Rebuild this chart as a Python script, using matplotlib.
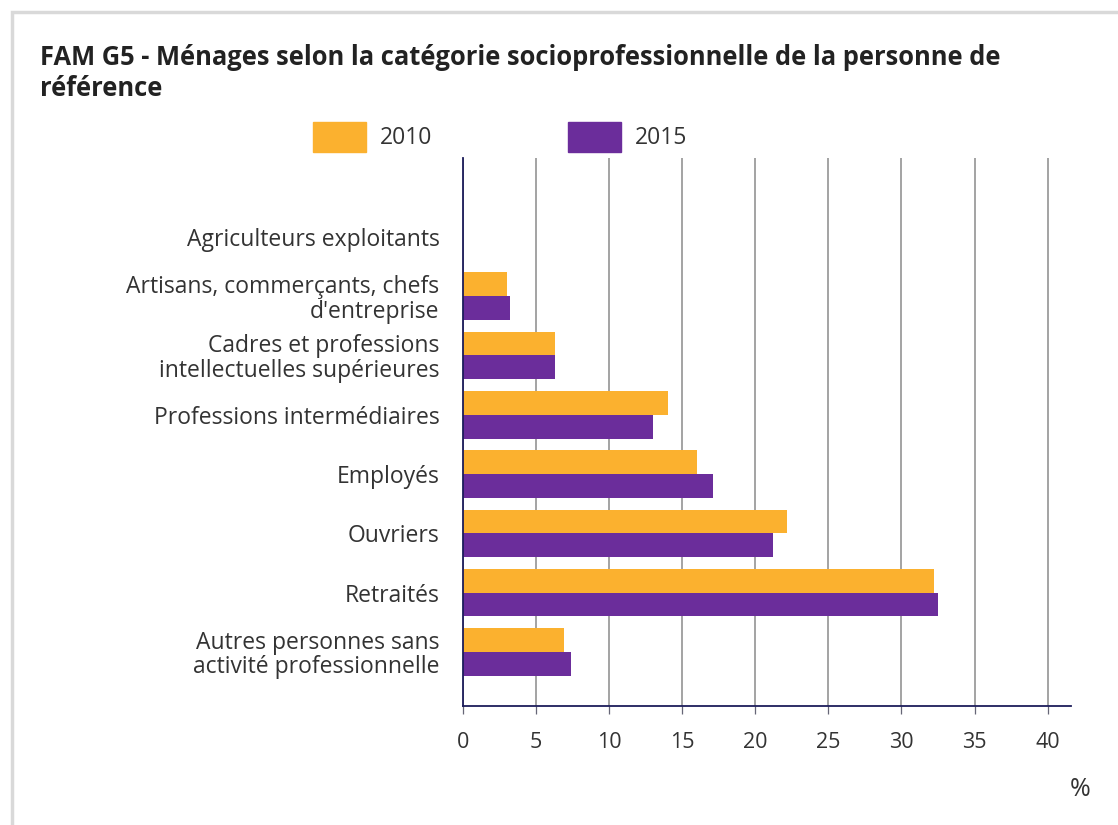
import matplotlib
matplotlib.use("Agg")
import matplotlib.pyplot as plt
import numpy as np
from matplotlib.patches import Rectangle

categories = [
    "Agriculteurs exploitants",
    "Artisans, commerçants, chefs\nd'entreprise",
    "Cadres et professions\nintellectuelles supérieures",
    "Professions intermédiaires",
    "Employés",
    "Ouvriers",
    "Retraités",
    "Autres personnes sans\nactivité professionnelle",
]
values_2010 = [0.0, 3.0, 6.3, 14.0, 16.0, 22.2, 32.2, 6.9]
values_2015 = [0.0, 3.2, 6.3, 13.0, 17.1, 21.2, 32.5, 7.4]
series_labels = ["2010", "2015"]
xticks = [0, 5, 10, 15, 20, 25, 30, 35, 40]

c2010 = "#FBB12F"
c2015 = "#6B2D9B"
navy = "#1c1c5a"

plt.rcParams['font.family'] = ['Open Sans', 'DejaVu Sans']

W, H = 1118, 825
fig = plt.figure(figsize=(W / 100, H / 100), dpi=100)

# card border
fig.patches.append(Rectangle((12 / W, -0.1), 1.2, (H - 12) / H + 0.1,
                             transform=fig.transFigure, fill=False,
                             edgecolor="#d9d9d9", linewidth=2.5, zorder=0))

ax = fig.add_axes([463 / W, (H - 706) / H, (1071 - 463) / W, (706 - 158) / H])

y = np.arange(len(categories))
h = 0.4
ax.barh(y - h / 2, values_2010, height=h, color=c2010, zorder=3, label=series_labels[0])
ax.barh(y + h / 2, values_2015, height=h, color=c2015, zorder=3, label=series_labels[1])

ax.set_ylim(7.91, -1.33)
ax.set_xlim(0, 41.6)
ax.set_yticks(y)
ax.set_yticklabels(categories, fontsize=16.5, color="#333333", linespacing=1.02)
ax.tick_params(axis='y', length=0, pad=17)
ax.set_xticks(xticks)
ax.set_xticklabels([str(t) for t in xticks], fontsize=15.5, color="#333333")
ax.tick_params(axis='x', length=6, width=0.9, color="#666677", pad=13)

ax.grid(axis='x', color="#8a8a8a", linewidth=1.1, zorder=1)
ax.set_axisbelow(True)
for s in ["top", "right"]:
    ax.spines[s].set_visible(False)
ax.spines["left"].set_color(navy)
ax.spines["left"].set_linewidth(1.3)
ax.spines["left"].set_zorder(4)
ax.spines["bottom"].set_color(navy)
ax.spines["bottom"].set_linewidth(1.3)

fig.text(40 / W, 1 - 73 / H, "FAM G5 - Ménages selon la catégorie socioprofessionnelle de la personne de\nréférence",
         fontsize=18.4, fontweight="bold", color="#222222", va="center", ha="left", linespacing=1.2)

# legend
for x0, col, lab in [(313, c2010, series_labels[0]), (568, c2015, series_labels[1])]:
    fig.patches.append(Rectangle((x0 / W, 1 - 152 / H), 53 / W, 30 / H,
                                 transform=fig.transFigure, color=col))
    fig.text((x0 + 67) / W, 1 - 138 / H, lab, fontsize=16.5, color="#333333", va="center", ha="left")

fig.text(1080 / W, 1 - 790 / H, "%", fontsize=18, color="#333333", va="center", ha="center")

fig.savefig("out.png", dpi=100)
